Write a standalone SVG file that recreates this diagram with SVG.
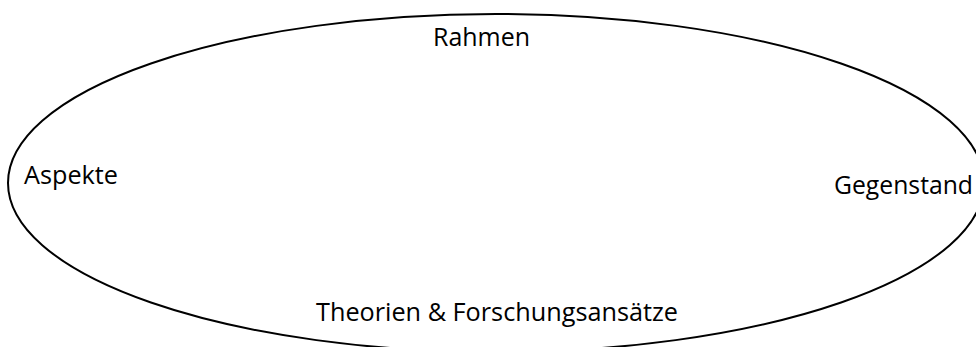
<svg xmlns="http://www.w3.org/2000/svg" width="976" height="347" viewBox="0 0 976 347">
<style>
text { font-family: "Open Sans", "Noto Sans", sans-serif; font-size: 25px; fill: #000; }
.frame { fill: none; stroke: #000; stroke-width: 2; }
</style>
<rect width="976" height="347" fill="#fff"/>
<g id="frame"><ellipse class="frame" cx="496" cy="183" rx="488" ry="169"/></g>
<g id="rahmen"><text x="433" y="46" textLength="97" lengthAdjust="spacingAndGlyphs">Rahmen</text></g>
<g id="aspekte"><text x="24" y="184" textLength="94" lengthAdjust="spacingAndGlyphs">Aspekte</text></g>
<g id="gegenstand"><text x="834" y="194" textLength="139" lengthAdjust="spacingAndGlyphs">Gegenstand</text></g>
<g id="theorien"><text x="316" y="321" textLength="362" lengthAdjust="spacingAndGlyphs">Theorien &amp; Forschungsansätze</text></g>
<g id="connectors"/>
</svg>
